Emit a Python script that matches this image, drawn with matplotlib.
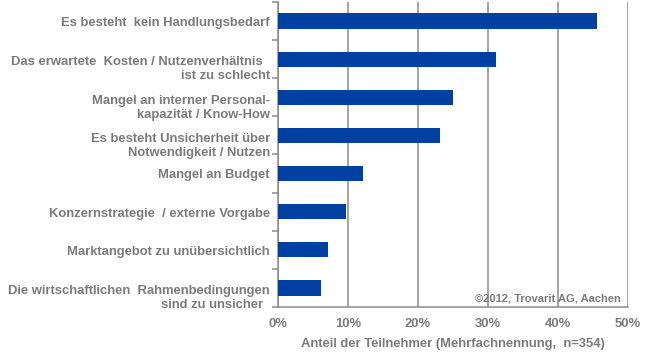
import matplotlib

matplotlib.use("Agg")
import matplotlib.pyplot as plt  # noqa: E402
import matplotlib.transforms as mtransforms  # noqa: E402
import numpy as np  # noqa: E402

plt.rcParams["font.family"] = ["Liberation Sans", "DejaVu Sans"]

# data (top to bottom)
categories = [
    "Es besteht  kein Handlungsbedarf",
    "Das erwartete  Kosten / Nutzenverhältnis  \nist zu schlecht",
    "Mangel an interner Personal-\nkapazität / Know-How",
    "Es besteht Unsicherheit über\nNotwendigkeit / Nutzen",
    "Mangel an Budget",
    "Konzernstrategie  / externe Vorgabe",
    "Marktangebot zu unübersichtlich",
    "Die wirtschaftlichen  Rahmenbedingungen\nsind zu unsicher  ",
]
shares = [45.5, 31.1, 25.0, 23.2, 12.2, 9.7, 7.1, 6.2]
xticks = [0, 10, 20, 30, 40, 50]

BAR = "#0040A2"
GREY = "#7A7A7A"
GRID = "#8C8C8C"
FS = 9.4

fig = plt.figure(figsize=(6.5, 3.54), dpi=100)
ax = fig.add_axes([0.4277, 0.1328, 0.5385, 0.8616])

n = len(categories)
ypos = np.arange(n)
ax.barh(ypos, shares, height=0.4, color=BAR, zorder=3)
ax.set_ylim(n - 0.5, -0.5)
ax.set_xlim(0, 50)

ax.set_xticks(xticks)
ax.set_xticklabels([f"{v}%" for v in xticks], fontsize=FS, fontweight="bold", color=GREY)
ax.grid(axis="x", color=GRID, linewidth=1.1, zorder=0)
ax.set_axisbelow(True)
ax.tick_params(axis="x", length=0, pad=8)

# category boundary ticks on the left, labels placed separately
ax.set_yticks(np.arange(n + 1) - 0.5)
ax.set_yticklabels([])
ax.tick_params(axis="y", length=4, color=GRID, width=1.1)

trans = mtransforms.blended_transform_factory(ax.transAxes, ax.transData)
for y, lab in zip(ypos, categories):
    off = 0.27 if "\n" in lab else 0.05
    ax.text(-0.023, y + off, lab, transform=trans, ha="right", va="center",
            fontsize=FS, fontweight="bold", color=GREY, linespacing=1.22)

for side in ("top", "right"):
    ax.spines[side].set_visible(False)
for side in ("left", "bottom"):
    ax.spines[side].set_color(GRID)
    ax.spines[side].set_linewidth(1.1)

ax.set_xlabel("Anteil der Teilnehmer (Mehrfachnennung,  n=354)", fontsize=FS,
              fontweight="bold", color=GREY, labelpad=6)
ax.text(0.98, 0.027, "©2012, Trovarit AG, Aachen", transform=ax.transAxes,
        ha="right", va="center", fontsize=8, fontweight="bold", color=GREY)

fig.savefig("out.png", dpi=100, facecolor="white")
